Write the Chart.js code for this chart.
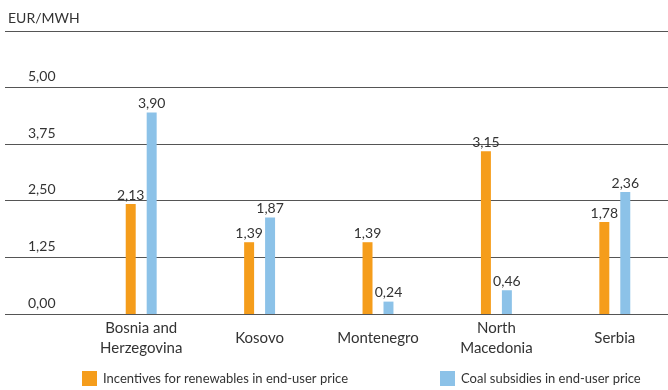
<!DOCTYPE html>
<html>
<head>
<meta charset="utf-8">
<script src="https://cdn.jsdelivr.net/npm/chart.js@4"></script>
<style>
html, body { margin: 0; padding: 0; background: #fff; overflow: hidden; }
#wrap { position: absolute; left: 0; top: 0; width: 674px; height: 390px; }
</style>
</head>
<body>
<div id="wrap"><canvas id="subsidyChart"></canvas></div>
<script>
const countries = [['Bosnia and', 'Herzegovina'], 'Kosovo', 'Montenegro', ['North', 'Macedonia'], 'Serbia'];
const renewables = [2.13, 1.39, 1.39, 3.15, 1.78];
const coal = [3.90, 1.87, 0.24, 0.46, 2.36];
const yTicks = [0, 1.25, 2.5, 3.75, 5, 6.25];
const unitLabel = 'EUR/MWH';
const seriesNames = ['Incentives for renewables in end-user price', 'Coal subsidies in end-user price'];
const seriesColors = ['#F59D1B', '#8CC2E8'];

const textColor = '#333';
const fontFamily = 'Lato, "Open Sans", sans-serif';
const fmt = v => v.toFixed(2).replace('.', ',');

// value labels above the bars
const valueLabels = {
    id: 'valueLabels',
    afterDatasetsDraw(chart) {
        const { ctx } = chart;
        ctx.save();
        ctx.font = `14px ${fontFamily}`;
        ctx.fillStyle = textColor;
        ctx.textAlign = 'center';
        ctx.textBaseline = 'bottom';
        chart.data.datasets.forEach((ds, i) => {
            chart.getDatasetMeta(i).data.forEach((bar, j) => {
                ctx.fillText(fmt(ds.data[j]), bar.x, bar.y - 2);
            });
        });
        ctx.restore();
    }
};

// unit text over the top gridline + legend row at the bottom
const extras = {
    id: 'extras',
    afterDraw(chart) {
        const { ctx } = chart;
        const y = chart.scales.y;
        ctx.save();
        ctx.fillStyle = textColor;
        ctx.font = `14px ${fontFamily}`;
        ctx.textBaseline = 'middle';
        ctx.textAlign = 'left';
        ctx.fillText(unitLabel, 8, y.getPixelForValue(yTicks[yTicks.length - 1]) - 13);

        const legendX = [82, 440];
        ctx.font = `13px ${fontFamily}`;
        chart.data.datasets.forEach((ds, i) => {
            ctx.fillStyle = ds.backgroundColor;
            ctx.fillRect(legendX[i], 371, 15, 15);
            ctx.fillStyle = textColor;
            ctx.fillText(ds.label, legendX[i] + 21, 379);
        });
        ctx.restore();
    }
};

new Chart(document.getElementById('subsidyChart'), {
    type: 'bar',
    data: {
        labels: countries,
        datasets: [
            { label: seriesNames[0], data: renewables, backgroundColor: seriesColors[0], yAxisID: 'yBars' },
            { label: seriesNames[1], data: coal, backgroundColor: seriesColors[1], yAxisID: 'yBars' }
        ]
    },
    options: {
        responsive: true,
        maintainAspectRatio: false,
        animation: false,
        datasets: {
            bar: { categoryPercentage: 0.354, barPercentage: 0.476 }
        },
        layout: { padding: { left: 28, top: 31, right: 0, bottom: 0 } },
        plugins: {
            legend: { display: false },
            tooltip: { enabled: false }
        },
        scales: {
            x: {
                offset: true,
                grid: { display: false },
                border: { display: false },
                ticks: {
                    color: textColor,
                    font: { family: fontFamily, size: 15, lineHeight: 1.35 },
                    maxRotation: 0,
                    autoSkip: false,
                    crossAlign: 'center',
                    padding: 6
                },
                afterFit: scale => { scale.height = 76; }
            },
            y: {
                position: 'left',
                min: 0,
                max: 6.25,
                afterBuildTicks: scale => { scale.ticks = yTicks.map(value => ({ value })); },
                grid: { color: '#555', lineWidth: 1, drawTicks: true, tickLength: 77, tickColor: '#555' },
                border: { display: false },
                ticks: {
                    color: textColor,
                    font: { family: fontFamily, size: 14 },
                    crossAlign: 'far',
                    labelOffset: -11,
                    callback: v => (v === 6.25 ? '' : fmt(v))
                },
                afterFit: scale => { scale.width = 54; }
            },
            // the source draws its bars a little taller than the gridlines imply
            yBars: {
                display: false,
                min: 0,
                max: 5.48
            }
        }
    },
    plugins: [valueLabels, extras]
});
</script>
</body>
</html>
